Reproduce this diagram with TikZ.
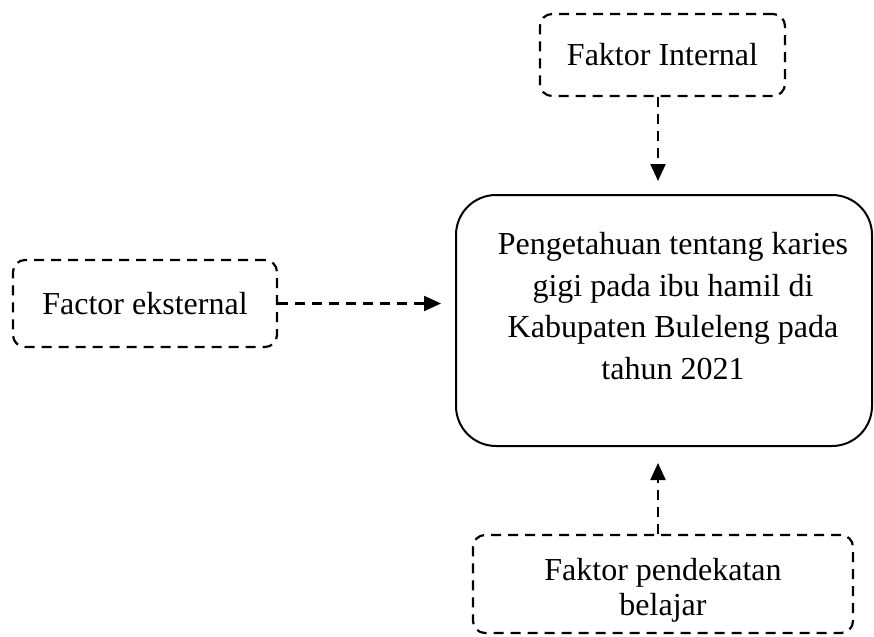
\documentclass[tikz,border=0pt]{standalone}
\usepackage{fontspec}
\setmainfont{Liberation Serif}
\usetikzlibrary{positioning}
\usetikzlibrary{arrows.meta}
\usetikzlibrary{calc}

\begin{document}
\begin{tikzpicture}[x=0.5pt, y=-0.5pt,
    faktor/.style={draw, line width=1.1pt, dash pattern=on 5pt off 3.5pt, rounded corners=6pt, align=center, inner sep=0pt},
    pusat/.style={draw, line width=1pt, rounded corners=20pt, inner sep=0pt},
    panah/.style={line width=1.1pt, dash pattern=on 5pt off 3.5pt, -{Triangle[length=8.5pt, width=7.5pt]}}]
  \useasboundingbox (0,0) rectangle (874,637);
  \fontsize{16}{21}\selectfont

	\def\cx{658};

%boxes
   \node[faktor, minimum width=122.5pt, minimum height=41pt] (intern) at (662.5,55) {Faktor Internal};
   \node[faktor, minimum width=132pt, minimum height=43.5pt] (ekstern) at (145,303.5) {Factor eksternal};
   \node[pusat, minimum width=208pt, minimum height=125.5pt] (pusat) at (664,320.5) {};
   \node[align=center, font=\fontsize{16}{20.75}\selectfont] (judul) at (673,306) {Pengetahuan tentang karies\\gigi pada ibu hamil di\\Kabupaten Buleleng pada\\tahun 2021};
   \node[faktor, minimum width=190pt, minimum height=49pt] (belajar) at (663,584) {};
   \node[align=center, font=\fontsize{16}{17.5}\selectfont] (belajarteks) at (663,590) {Faktor pendekatan\\belajar};

%arrows
   \coordinate (kolom) at (\cx,0);
   \draw[panah, shorten >=6.5pt] (intern.south -| kolom) -- (pusat.north -| kolom);
   \draw[panah, shorten >=7pt] (ekstern.east) -- (ekstern.east -| pusat.west);
   \draw[panah, shorten >=8pt] (belajar.north -| kolom) -- (pusat.south -| kolom);

\end{tikzpicture}
\end{document}
